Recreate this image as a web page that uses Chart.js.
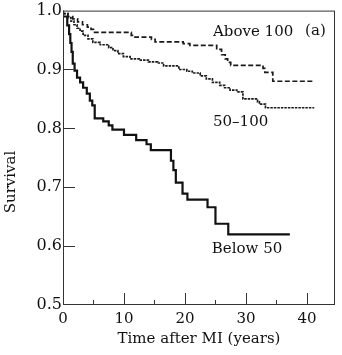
<!DOCTYPE html>
<html>
<head>
<meta charset="utf-8">
<script src="https://cdn.jsdelivr.net/npm/chart.js@4.4.1/dist/chart.umd.min.js"></script>
<style>
  body { margin: 0; background: #fff; }
  #wrap { width: 342px; height: 355px; }
</style>
</head>
<body>
<div id="wrap"><canvas id="grafico"></canvas></div>
<script>
// survival curves (time in years, survival after each step)
const tempoAcima = [0, 0.8, 1.6, 2.4, 3.2, 4.0, 4.6, 5.0, 11.2, 11.8, 14.5, 15.1, 19.7, 20.8, 25.2, 26.0, 26.6, 27.0, 27.5, 32.8, 33.1, 34.4, 34.6, 41.0];
const survAcima = [1, 0.995, 0.99, 0.986, 0.981, 0.976, 0.972, 0.968, 0.963, 0.958, 0.955, 0.951, 0.947, 0.944, 0.941, 0.934, 0.925, 0.918, 0.912, 0.907, 0.902, 0.895, 0.880, 0.880];

const tempoMeio = [0, 0.8, 1.3, 1.8, 2.3, 2.8, 3.3, 4.1, 4.9, 6.1, 7.5, 8.2, 9.0, 9.9, 11.0, 12.5, 14.0, 15.5, 16.5, 19.0, 20.3, 21.2, 22.5, 23.5, 24.5, 25.7, 26.5, 27.4, 28.5, 29.5, 31.9, 32.2, 33.2, 34.3, 41.2];
const survMeio = [1, 0.995, 0.988, 0.982, 0.976, 0.970, 0.965, 0.958, 0.952, 0.946, 0.942, 0.937, 0.932, 0.927, 0.922, 0.918, 0.916, 0.913, 0.911, 0.906, 0.900, 0.897, 0.894, 0.889, 0.884, 0.878, 0.873, 0.869, 0.865, 0.862, 0.850, 0.845, 0.841, 0.835, 0.835];

const tempoAbaixo = [0, 0.7, 1.0, 1.2, 1.4, 1.6, 1.9, 2.3, 2.8, 3.3, 3.9, 4.4, 4.8, 5.2, 6.6, 7.5, 8.1, 10.0, 12.0, 13.7, 14.4, 17.7, 18.1, 18.5, 19.6, 20.4, 23.7, 25.0, 27.1, 28.8, 37.2];
const survAbaixo = [1, 0.99, 0.975, 0.96, 0.945, 0.93, 0.91, 0.898, 0.886, 0.878, 0.869, 0.859, 0.847, 0.839, 0.817, 0.812, 0.805, 0.798, 0.789, 0.780, 0.773, 0.763, 0.745, 0.729, 0.708, 0.689, 0.679, 0.666, 0.638, 0.620, 0.620];

const ticksX = [0, 5, 10, 15, 20, 25, 30, 35, 40];
const ticksY = [0.5, 0.6, 0.7, 0.8, 0.9, 1.0];

const rotulos = [
  { texto: "Above 100", x: 24.6, y: 0.963 },
  { texto: "(a)", x: 39.7, y: 0.966 },
  { texto: "50\u2013100", x: 24.6, y: 0.810 },
  { texto: "Below 50", x: 24.4, y: 0.595 },
];

const fonte = "DejaVu Serif";
const pontos = (t, s) => t.map((v, i) => ({ x: v, y: s[i] }));

const molduraPlugin = {
  id: "moldura",
  afterDraw(chart) {
    const { ctx, chartArea: a, scales } = chart;
    ctx.save();
    ctx.strokeStyle = "#333";
    ctx.lineWidth = 1;
    ctx.strokeRect(a.left + 0.5, a.top + 0.5, a.right - a.left - 1, a.bottom - a.top - 1);

    // ticks pointing inwards
    ctx.beginPath();
    scales.x.ticks.forEach((t) => {
      if (t.value === 0) return;
      const px = Math.round(scales.x.getPixelForValue(t.value)) + 0.5;
      const len = t.value % 10 === 0 ? 12 : 5;
      ctx.moveTo(px, a.bottom);
      ctx.lineTo(px, a.bottom - len);
    });
    scales.y.ticks.forEach((t) => {
      if (t.value <= 0.5 || t.value >= 1) return;
      const py = Math.round(scales.y.getPixelForValue(t.value)) + 0.5;
      ctx.moveTo(a.left, py);
      ctx.lineTo(a.left + 12, py);
    });
    ctx.stroke();

    ctx.fillStyle = "#111";
    ctx.font = "15px '" + fonte + "'";
    ctx.textBaseline = "middle";
    ctx.textAlign = "left";
    rotulos.forEach((r) => {
      ctx.fillText(r.texto, scales.x.getPixelForValue(r.x), scales.y.getPixelForValue(r.y));
    });

    ctx.textAlign = "center";
    ctx.fillText("Time after MI (years)", (a.left + a.right) / 2, 339);
    ctx.translate(11, 182);
    ctx.rotate(-Math.PI / 2);
    ctx.fillText("Survival", 0, 0);
    ctx.restore();
  },
};

new Chart(document.getElementById("grafico"), {
  type: "line",
  data: {
    datasets: [
      {
        label: "Above 100",
        data: pontos(tempoAcima, survAcima),
        stepped: "after",
        borderColor: "#1a1a1a",
        borderWidth: 1.7,
        borderDash: [5, 2.5],
        pointRadius: 0,
      },
      {
        label: "50-100",
        data: pontos(tempoMeio, survMeio),
        stepped: "after",
        borderColor: "#1a1a1a",
        borderWidth: 1.7,
        borderDash: [2.5, 1],
        pointRadius: 0,
      },
      {
        label: "Below 50",
        data: pontos(tempoAbaixo, survAbaixo),
        stepped: "after",
        borderColor: "#111",
        borderWidth: 2.2,
        pointRadius: 0,
      },
    ],
  },
  options: {
    responsive: true,
    maintainAspectRatio: false,
    animation: false,
    layout: { padding: { top: 10, right: 7, left: 0, bottom: 0 } },
    plugins: { legend: { display: false }, tooltip: { enabled: false } },
    scales: {
      x: {
        type: "linear",
        min: 0,
        max: 44.6,
        afterFit: (s) => { s.height = 50; },
        afterBuildTicks: (s) => { s.ticks = ticksX.map((v) => ({ value: v })); },
        grid: { display: false, drawTicks: false },
        border: { display: false },
        ticks: {
          padding: 5,
          color: "#111",
          maxRotation: 0,
          autoSkip: false,
          font: { family: fonte, size: 15 },
          callback: (v) => (v % 10 === 0 ? String(v) : ""),
        },
      },
      y: {
        min: 0.5,
        max: 1.0,
        afterFit: (s) => { s.width = 63; },
        afterBuildTicks: (s) => { s.ticks = ticksY.map((v) => ({ value: v })); },
        grid: { display: false, drawTicks: false },
        border: { display: false },
        ticks: {
          padding: 1,
          color: "#111",
          font: { family: fonte, size: 16 },
          callback: (v) => v.toFixed(1),
        },
      },
    },
  },
  plugins: [molduraPlugin],
});
</script>
</body>
</html>
